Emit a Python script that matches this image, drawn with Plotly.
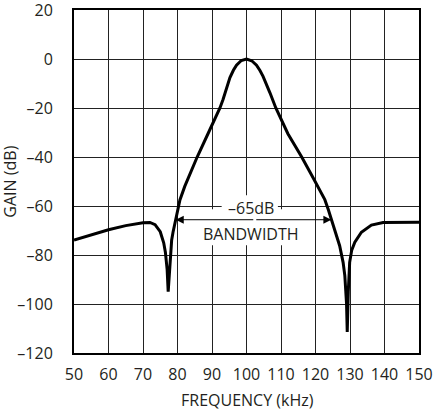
"""Filter response: gain vs frequency, with the -65dB bandwidth marked."""
import plotly.graph_objects as go

# curve (kHz , dB)
freq = [50, 55, 60, 65, 70, 72, 73.5, 75, 76, 76.5, 77, 77.3, 77.6, 77.9, 78.3, 78.7,
        79.5, 80.7, 82.1, 85.7, 89, 92.3, 93.2, 94.2, 95.2, 96.2, 97.1, 98.5, 100, 101.5,
        102.9, 103.9, 104.8, 106.8, 108.5, 112, 116, 119.3, 121, 122.7, 123.7, 124.6, 126,
        127, 128, 128.5, 129, 129.2, 129.5, 129.9, 130.5, 131.4, 133.3, 136.2, 139.6, 145,
        150]
gain = [-73.9, -71.8, -69.7, -68.0, -66.8, -66.7, -67.6, -70.5, -75, -79, -86, -95, -88,
        -80, -74, -70.7, -65.6, -57.5, -52, -40, -30, -20, -16.5, -11.8, -7.6, -4.6,
        -2.5, -0.6, 0, -0.7, -2.5, -4.7, -7.1, -13.8, -20, -30.5, -40, -48.5, -52.8,
        -57.4, -61.4, -65.6, -71.5, -76.2, -83, -88.4, -100, -111.4, -95, -83, -78, -74.8,
        -70.7, -67.8, -66.7, -66.5, -66.6]

x_ticks = [50, 60, 70, 80, 90, 100, 110, 120, 130, 140, 150]
y_ticks = [20, 0, -20, -40, -60, -80, -100, -120]
y_labels = ["20", "0", "–20", "–40", "–60", "–80", "–100", "–120"]

# bandwidth ends at -65dB
bw_level = -65.6
bw_low, bw_high = 79.5, 124.6

txt_color = "#231f20"
font_name = "Open Sans"

fig = go.Figure()
fig.add_trace(go.Scatter(x=freq, y=gain, mode="lines",
                         line=dict(color="black", width=3), showlegend=False,
                         hoverinfo="skip"))

# white patches behind the labels (grid is cut there in the original)
fig.add_shape(type="rect", x0=92.8, x1=109.1, y0=-55.6, y1=-64.0, layer="between",
              fillcolor="white", line_width=0)
fig.add_shape(type="rect", x0=86.5, x1=115.4, y0=-61.3, y1=-76.0, layer="between",
              fillcolor="white", line_width=0)

mid = (bw_low + bw_high) / 2 + 0.35
for end in (bw_low, bw_high):
    fig.add_annotation(x=end, y=bw_level, ax=mid, ay=bw_level, axref="x", ayref="y",
                       text="", showarrow=True, arrowhead=2, arrowsize=1.6,
                       arrowwidth=1, arrowcolor="black")
fig.add_annotation(x=101.4, y=-60.9, text="–65dB", showarrow=False,
                   font=dict(size=16, color=txt_color))
fig.add_annotation(x=101.4, y=-71.6, text="BANDWIDTH", showarrow=False,
                   font=dict(size=16, color=txt_color))

# axis titles placed by hand
fig.add_annotation(x=0.503, y=-0.137, xref="paper", yref="paper", text="FREQUENCY (kHz)",
                   xanchor="center", yanchor="middle",
                   showarrow=False, font=dict(size=16, color=txt_color))
fig.add_annotation(x=-0.188, y=0.5, xref="paper", yref="paper", text="GAIN (dB)",
                   xanchor="center", yanchor="middle",
                   textangle=-90, showarrow=False, font=dict(size=16, color=txt_color))

fig.update_xaxes(range=[50, 150], tickvals=x_ticks, ticktext=[str(v) for v in x_ticks],
                 showgrid=True, gridcolor="#222", gridwidth=1, zeroline=False,
                 showline=True, mirror=True, linecolor="black", linewidth=2,
                 ticks="", ticklabelstandoff=6, automargin=False,
                 ticklabeloverflow="allow")
fig.update_yaxes(range=[-120, 20], tickvals=y_ticks, ticktext=y_labels,
                 showgrid=True, gridcolor="#222", gridwidth=1, zeroline=False,
                 showline=True, mirror=True, linecolor="black", linewidth=2,
                 ticks="", ticklabelstandoff=16, automargin=False,
                 ticklabeloverflow="allow")
fig.update_layout(width=435, height=411, template="plotly_white",
                  plot_bgcolor="white", paper_bgcolor="white",
                  margin=dict(l=74, r=16, t=10, b=58), hovermode=False,
                  font=dict(family=font_name, size=16, color=txt_color))

# page has 8px body margin by default, drop it so the figure sits at 0,0
fig.write_html("out.html", config={"displayModeBar": False},
               post_script="document.body.style.margin='0';")
